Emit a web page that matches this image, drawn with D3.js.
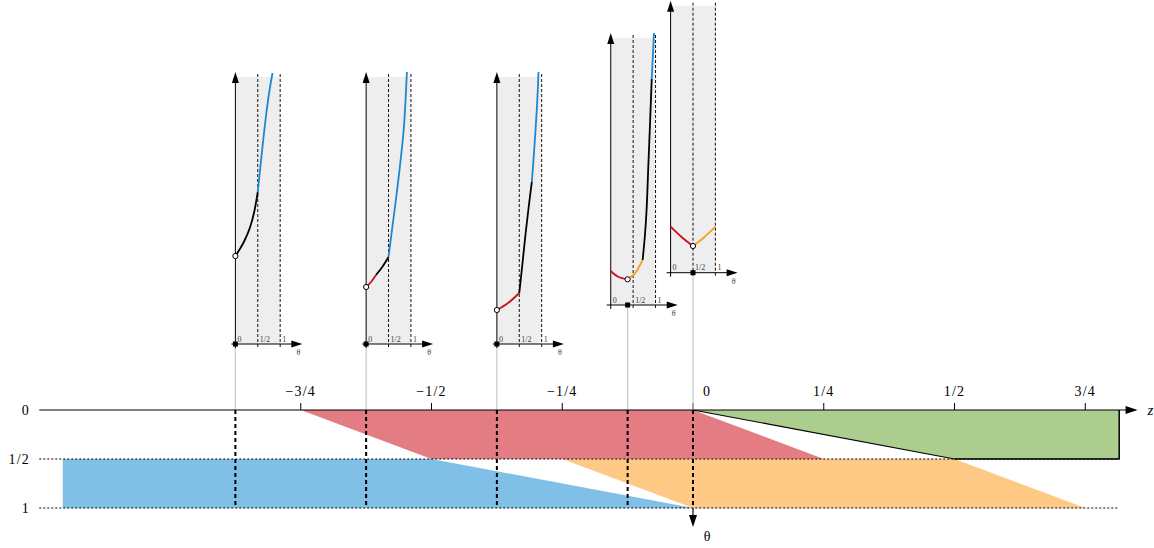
<!DOCTYPE html>
<html><head><meta charset="utf-8">
<script src="https://cdn.jsdelivr.net/npm/d3@7"></script>
<style>body{margin:0;background:#fff} svg{display:block}</style>
</head><body><svg id="c" width="1154" height="548"></svg>
<script>
// ---------- data ----------
const zTicks = [-0.75, -0.5, -0.25, 0, 0.25, 0.5, 0.75];
const zTickLabels = ["−3/4", "−1/2", "−1/4", "0", "1/4", "1/2", "3/4"];
const thetaTicks = [0, 0.5, 1];
const thetaTickLabels = ["0", "1/2", "1"];
const zAxisExtent = [-1.25, 0.85];

const blueRegion = [[-1.205, 0.5], [-0.5, 0.5], [0, 1], [-1.205, 1]];
const redRegion = [[-0.75, 0], [0, 0], [0.25, 0.5], [-0.5, 0.5]];
const orangeRegion = [[-0.25, 0.5], [0.5, 0.5], [0.75, 1], [0, 1]];
const greenRegion = [[0, 0], [0.815, 0], [0.815, 0.5], [0.5, 0.5]];
const greenEdge = [[0, 0], [0.5, 0.5], [0.815, 0.5], [0.815, 0]];
const dottedRows = [0.5, 1];
const dottedExtent = [-1.25, 0.815];

const sliceZ = [-0.875, -0.625, -0.375, -0.125, 0];
const sliceArgmin = [0, 0, 0, 0.377, 0.5];
const smallTicks = [0, 0.5, 1];
const smallTickLabels = ["0", "1/2", "1"];

// slice curves: [theta, value]
const s1Black = [[0, 88], [0.1, 95], [0.2, 103], [0.33, 117], [0.42, 132], [0.5, 152]];
const s1Blue = [[0.5, 152], [0.6, 195], [0.7, 234], [0.77, 256], [0.83, 271]];
const s2Red = [[0, 57], [0.11, 62], [0.22, 69]];
const s2Black = [[0.22, 69], [0.36, 77], [0.5, 87]];
const s2Blue = [[0.5, 87], [0.58, 115], [0.67, 146], [0.76, 180], [0.84, 215], [0.91, 272]];
const s3Red = [[0, 34], [0.25, 41], [0.5, 51]];
const s3Black = [[0.5, 51], [0.57, 80], [0.64, 110], [0.71, 137], [0.78, 162]];
const s3Blue = [[0.78, 162], [0.82, 186], [0.86, 212], [0.9, 242], [0.93, 272]];
const s4Red = [[0, 34], [0.165, 28.3], [0.377, 25.7]];
const s4Orange = [[0.377, 25.7], [0.54, 31.7], [0.712, 45]];
const s4Black = [[0.712, 45], [0.76, 68], [0.8, 95], [0.84, 140], [0.88, 185], [0.915, 226]];
const s4Blue = [[0.915, 226], [0.94, 249], [0.966, 272]];
const s5Red = [[0, 46], [0.25, 35.5], [0.5, 26.7]];
const s5Orange = [[0.5, 26.7], [0.75, 35.5], [1, 46]];

const sliceCurves = [
  [["black", s1Black], ["blue", s1Blue]],
  [["red", s2Red], ["black", s2Black], ["blue", s2Blue]],
  [["red", s3Red], ["black", s3Black], ["blue", s3Blue]],
  [["red", s4Red], ["orange", s4Orange], ["black", s4Black], ["blue", s4Blue]],
  [["red", s5Red], ["orange", s5Orange]]
];

// ---------- layout / style ----------
const sliceBase = [344, 344, 344, 305, 272.7];
const fills = {blue: "#80c0e6", red: "#e47d83", orange: "#fec985", green: "#abcd8d"};
const strokes = {black: "#000", blue: "#1a88d2", red: "#cc1020", orange: "#f5a01e"};
const serif = "'Liberation Serif','DejaVu Serif',serif";

const svg = d3.select("#c");
const x = d3.scaleLinear().domain([-1, 1]).range([170, 1216]);
const y = d3.scaleLinear().domain([0, 1]).range([410, 508]);
const poly = d3.line().x(d => x(d[0])).y(d => y(d[1]));

const g = svg.append("g");
[["blue", blueRegion], ["red", redRegion], ["orange", orangeRegion], ["green", greenRegion]].forEach(([k, pts]) => {
  g.append("path").attr("d", poly(pts) + "Z").attr("fill", fills[k]);
});
g.append("path").attr("d", poly(greenEdge)).attr("fill", "none").attr("stroke", "#000").attr("stroke-width", 1.1);

dottedRows.forEach(t => {
  g.append("line").attr("x1", x(dottedExtent[0])).attr("x2", x(dottedExtent[1]))
    .attr("y1", y(t)).attr("y2", y(t)).attr("stroke", "#000").attr("stroke-width", 1)
    .attr("stroke-dasharray", "2,2");
});
g.append("path").attr("d", poly(greenEdge.slice(1))).attr("fill", "none").attr("stroke", "#000").attr("stroke-width", 1.1);

sliceZ.forEach((z, i) => {
  g.append("line").attr("x1", x(z)).attr("x2", x(z)).attr("y1", sliceBase[i]).attr("y2", y(0))
    .attr("stroke", "#c8c8c8").attr("stroke-width", 1.2);
});

sliceZ.forEach(z => {
  g.append("line").attr("x1", x(z)).attr("x2", x(z)).attr("y1", y(0)).attr("y2", y(1))
    .attr("stroke", "#000").attr("stroke-width", 2).attr("stroke-dasharray", "4,3");
});

g.append("line").attr("x1", x(zAxisExtent[0])).attr("x2", x(zAxisExtent[1]) - 8)
  .attr("y1", y(0)).attr("y2", y(0)).attr("stroke", "#000").attr("stroke-width", 1.2);
const zt = x(zAxisExtent[1]);
g.append("path").attr("d", `M${zt},${y(0)} L${zt - 12},${y(0) - 4} L${zt - 12},${y(0) + 4} Z`).attr("fill", "#000");
g.append("text").attr("x", zt + 10).attr("y", y(0) + 5).attr("font-family", serif).attr("font-style", "italic")
  .attr("font-size", 15).text("z");
zTicks.forEach((t, i) => {
  g.append("line").attr("x1", x(t)).attr("x2", x(t)).attr("y1", y(0) - 7).attr("y2", y(0))
    .attr("stroke", t === 0 ? "#666" : "#000").attr("stroke-width", 1);
  g.append("text").attr("x", t === 0 ? x(t) + 14 : x(t)).attr("y", 396).attr("text-anchor", "middle")
    .attr("font-family", serif).attr("font-size", 14).attr("letter-spacing", 1.2).text(zTickLabels[i]);
});
g.append("line").attr("x1", x(0)).attr("x2", x(0)).attr("y1", y(1)).attr("y2", 518)
  .attr("stroke", "#000").attr("stroke-width", 1.2);
g.append("path").attr("d", `M${x(0)},527 L${x(0) - 4},515 L${x(0) + 4},515 Z`).attr("fill", "#000");
g.append("text").attr("x", x(0) + 14).attr("y", 541).attr("text-anchor", "middle")
  .attr("font-family", serif).attr("font-size", 14).text("θ");
thetaTicks.forEach((t, i) => {
  g.append("text").attr("x", 30).attr("y", y(t) + 5).attr("text-anchor", "end")
    .attr("font-family", serif).attr("font-size", 14).attr("letter-spacing", 1.2).text(thetaTickLabels[i]);
});

// ---------- small plots ----------
const pxPerTheta = 44.8;
const plotH = 267;
sliceZ.forEach((z, i) => {
  const base = sliceBase[i];
  const x0 = x(z) - sliceArgmin[i] * pxPerTheta;
  const sx = d3.scaleLinear().domain([0, 1]).range([x0, x0 + pxPerTheta]);
  const sy = d3.scaleLinear().domain([0, plotH]).range([base, base - plotH]);
  const p = svg.append("g");
  p.append("rect").attr("x", sx(0)).attr("y", sy(plotH)).attr("width", sx(1) - sx(0)).attr("height", plotH)
    .attr("fill", "#eeeeee");
  smallTicks.slice(1).forEach(t => {
    p.append("line").attr("x1", sx(t)).attr("x2", sx(t)).attr("y1", base + 3).attr("y2", sy(plotH + 5))
      .attr("stroke", "#111").attr("stroke-width", 1).attr("stroke-dasharray", "3,2");
  });
  p.append("line").attr("x1", x0).attr("x2", x0).attr("y1", base + 4).attr("y2", sy(plotH - 2))
    .attr("stroke", "#000").attr("stroke-width", 1);
  p.append("path").attr("d", `M${x0},${sy(plotH + 5)} L${x0 - 3.5},${sy(plotH - 6)} L${x0 + 3.5},${sy(plotH - 6)} Z`).attr("fill", "#000");
  const xe = x0 + 67;
  p.append("line").attr("x1", x0 - 4).attr("x2", xe - 8).attr("y1", base).attr("y2", base)
    .attr("stroke", "#000").attr("stroke-width", 1);
  p.append("path").attr("d", `M${xe},${base} L${xe - 11},${base - 3.5} L${xe - 11},${base + 3.5} Z`).attr("fill", "#000");
  p.append("text").attr("x", x0 + 63).attr("y", base + 11).attr("text-anchor", "middle")
    .attr("font-family", serif).attr("font-size", 8).attr("fill", "#444").text("θ");
  smallTicks.forEach((t, j) => {
    p.append("text").attr("x", sx(t) + 2).attr("y", base - 2.5)
      .attr("font-family", serif).attr("font-size", 8).attr("fill", "#444").text(smallTickLabels[j]);
  });
  const ln = d3.line().x(d => sx(d[0])).y(d => sy(d[1])).curve(d3.curveCatmullRom.alpha(0.5));
  sliceCurves[i].forEach(([c, pts]) => {
    p.append("path").attr("d", ln(pts)).attr("fill", "none").attr("stroke", strokes[c])
      .attr("stroke-width", 1.8);
  });
  const am = sliceArgmin[i];
  const first = sliceCurves[i].flatMap(s => s[1]).reduce((a, b) => (b[1] < a[1] ? b : a));
  p.append("circle").attr("cx", sx(am)).attr("cy", sy(first[1])).attr("r", 2.6)
    .attr("fill", "#fff").attr("stroke", "#000").attr("stroke-width", 1);
  p.append("rect").attr("x", sx(am) - 2.5).attr("y", base - 2.5).attr("width", 5).attr("height", 5).attr("fill", "#000");
});
</script></body></html>
